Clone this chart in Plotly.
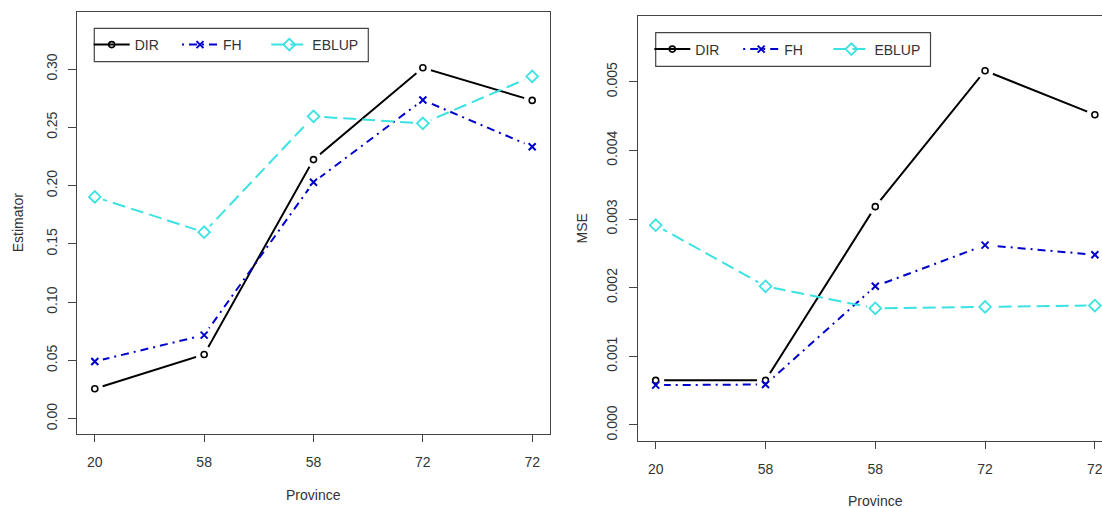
import plotly.graph_objects as go

# ---- data -------------------------------------------------------------
provinces = ["20", "58", "58", "72", "72"]
positions = [1, 2, 3, 4, 5]

est_dir = [0.0257, 0.0551, 0.2223, 0.3011, 0.2731]
est_fh = [0.0491, 0.0717, 0.2029, 0.2734, 0.2334]
est_eblup = [0.1903, 0.1600, 0.2594, 0.2534, 0.2937]

mse_dir = [0.00065, 0.00065, 0.00318, 0.00516, 0.00452]
mse_fh = [0.00058, 0.00059, 0.00202, 0.00262, 0.00248]
mse_eblup = [0.00291, 0.00202, 0.00170, 0.00172, 0.00174]

series_names = ["DIR", "FH", "EBLUP"]

# ---- styling ----------------------------------------------------------
W, H = 1102, 508
FONT = "Liberation Sans, Arial, sans-serif"
TXT = "#333333"
FRAME = "#444444"

styles = {
    "DIR": dict(color="#000000", dash="solid", symbol="circle-open", size=6, mlw=1.6),
    "FH": dict(color="#0000CD", dash="2px,5px,8px,5px", symbol="x-thin-open", size=7, mlw=2),
    "EBLUP": dict(color="#3CE2E2", dash="13px,6px", symbol="diamond-open", size=9, mlw=1.8),
}


def px(x):
    return x / W


def py(y):
    return 1 - y / H


fig = go.Figure()

# each legend entry sits in its own legend box so the entries can be spaced evenly
panels = [
    dict(xa="x", ya="y", values=[est_dir, est_fh, est_eblup],
         legends=["legend", "legend3", "legend4"], leg_x=[88.7, 177.0, 266.3], leg_y=45.0),
    dict(xa="x2", ya="y2", values=[mse_dir, mse_fh, mse_eblup],
         legends=["legend2", "legend5", "legend6"], leg_x=[649.3, 738.2, 828.4], leg_y=49.5),
]

legend_layouts = {}
for p in panels:
    xa, ya = p["xa"], p["ya"]
    # connecting lines (legend entries carry line + marker)
    for name, vals, leg, lx in zip(series_names, p["values"], p["legends"], p["leg_x"]):
        s = styles[name]
        fig.add_trace(go.Scatter(
            x=positions, y=vals, name=name, mode="lines+markers",
            xaxis=xa, yaxis=ya, legend=leg,
            line=dict(color=s["color"], width=2, dash=s["dash"]),
            marker=dict(symbol=s["symbol"], size=s["size"], color=s["color"],
                        line=dict(color=s["color"], width=s["mlw"])),
        ))
        legend_layouts[leg] = dict(
            x=px(lx), y=py(p["leg_y"]), xanchor="left", yanchor="middle",
            orientation="h", bgcolor="rgba(0,0,0,0)", borderwidth=0, itemwidth=36,
            font=dict(family=FONT, size=14, color=TXT),
        )
    # white gaps around the points, as with type = "b"
    for vals in p["values"]:
        fig.add_trace(go.Scatter(
            x=positions, y=vals, mode="markers", showlegend=False,
            xaxis=xa, yaxis=ya, hoverinfo="skip",
            marker=dict(symbol="circle", size=17, color="white", line=dict(width=0)),
        ))
    # point symbols on top
    for name, vals in zip(series_names, p["values"]):
        s = styles[name]
        fig.add_trace(go.Scatter(
            x=positions, y=vals, mode="markers", showlegend=False,
            xaxis=xa, yaxis=ya, hoverinfo="skip",
            marker=dict(symbol=s["symbol"], size=s["size"], color=s["color"],
                        line=dict(color=s["color"], width=s["mlw"])),
        ))

axis_common = dict(
    showgrid=False, zeroline=False, showline=True, linecolor=FRAME, linewidth=1.3,
    ticks="outside", tickcolor=FRAME, tickwidth=1, ticklen=7,
    tickfont=dict(family=FONT, size=14, color=TXT),
)

fig.update_layout(
    width=W, height=H,
    margin=dict(l=0, r=0, t=0, b=0),
    paper_bgcolor="white", plot_bgcolor="white",
    font=dict(family=FONT, size=14, color=TXT),
    xaxis=dict(axis_common, domain=[px(77.3), px(549.7)], range=[0.84, 5.16],
               tickvals=positions, ticktext=provinces, mirror=True, anchor="y",
               ticklabelstandoff=8),
    yaxis=dict(axis_common, domain=[py(434.3), py(12.3)], range=[-0.0134, 0.3487],
               tickvals=[0, 0.05, 0.10, 0.15, 0.20, 0.25, 0.30], tickformat=".2f",
               tickangle=-90, mirror=True, anchor="x", ticklen=8,
               ticklabelstandoff=6),
    xaxis2=dict(axis_common, domain=[px(637.7), 1.0], range=[0.836, 5.065],
                tickvals=positions, ticktext=provinces, mirror=True, anchor="y2",
                ticklabelstandoff=8, ticklabeloverflow="allow"),
    yaxis2=dict(axis_common, domain=[py(440.7), py(16.3)], range=[-0.000229, 0.005953],
                tickvals=[0, 0.001, 0.002, 0.003, 0.004, 0.005], tickformat=".3f",
                tickangle=-90, mirror=False, anchor="x2", ticklen=8,
                ticklabelstandoff=6),
    showlegend=True,
    **legend_layouts,
)

# legend frames
fig.add_shape(type="rect", xref="paper", yref="paper",
              x0=px(94.3), x1=px(368.3), y0=py(61.7), y1=py(28.3),
              line=dict(color=FRAME, width=1.2), fillcolor="white", layer="above")
fig.add_shape(type="rect", xref="paper", yref="paper",
              x0=px(655.7), x1=px(930.5), y0=py(66.3), y1=py(32.7),
              line=dict(color=FRAME, width=1.2), fillcolor="white", layer="above")

# axis titles
titles = [
    ("Estimator", 18, 223.3, -90),
    ("Province", 313.5, 495, 0),
    ("MSE", 581, 228.5, -90),
    ("Province", 875, 500.5, 0),
]
for text, tx, ty, ang in titles:
    fig.add_annotation(text=text, xref="paper", yref="paper", x=px(tx), y=py(ty),
                       xanchor="center", yanchor="middle", showarrow=False,
                       textangle=ang, font=dict(family=FONT, size=14, color=TXT))

fig.write_html("out.html")
